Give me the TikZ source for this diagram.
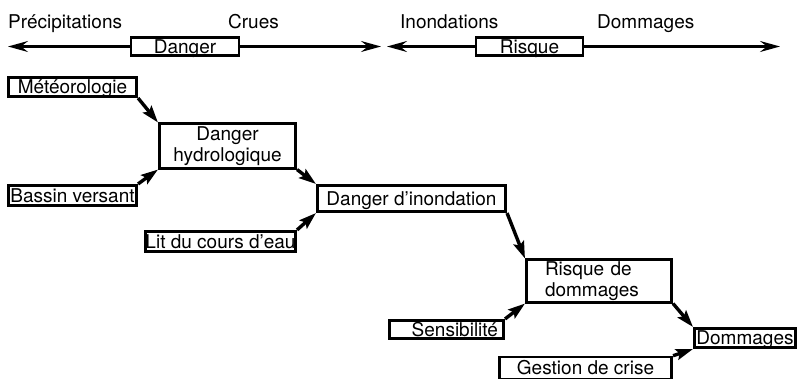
\documentclass[tikz,border=0pt]{standalone}
\usepackage{fontspec}
\setmainfont{TeX Gyre Heros}
\usetikzlibrary{arrows.meta}

\tikzset{
    box/.style={draw, line width=2.6pt, inner sep=0pt, align=center, font=\fontsize{19}{21}\selectfont},
    onebox/.style={box, text height=13.7pt, text depth=0.5pt},
    toplabel/.style={anchor=base west, inner sep=0pt, font=\fontsize{19}{21}\selectfont},
    axis/.style={line width=2.2pt, -{Stealth[length=20pt, width=11pt, inset=7pt]}},
    flow/.style={line width=3.4pt, -{Stealth[length=17pt, width=11pt, inset=3pt]}}
}

\begin{document}
\begin{tikzpicture}[x=1pt, y=-1pt]

    \useasboundingbox (0,0) rectangle (800,378);

    % draw the scale on top
    \node[onebox, minimum width=108pt, minimum height=18.5pt] (danger) at (185,46.5) {Danger};
    \node[onebox, minimum width=107pt, minimum height=18.5pt] (risque) at (529.5,46.5) {Risque};

    \coordinate (precip tip) at (8,46.5);
    \coordinate (crues tip) at (381,46.5);
    \coordinate (inond tip) at (387,46.5);
    \coordinate (domm tip) at (780,46.5);

    \node[toplabel] (precip) at (8,28) {Précipitations};
    \node[toplabel] (crues) at (228,28) {Crues};
    \node[toplabel] (inond) at (400,28) {Inondations};
    \node[toplabel] (domm) at (597,28) {Dommages};

    \path[draw, axis] (danger.west) -- (precip tip);
    \path[draw, axis] (danger.east) -- (crues tip);
    \path[draw, axis] (risque.west) -- (inond tip);
    \path[draw, axis] (risque.east) -- (domm tip);

    % draw the chain of boxes
    \node[onebox, minimum width=128.5pt, minimum height=19.5pt] (meteo) at (72.5,87) {Météorologie};
    \node[box, minimum width=136.5pt, minimum height=44.5pt] (hydro) at (227.5,146) {Danger\\hydrologique};
    \node[onebox, minimum width=128.5pt, minimum height=20.5pt] (bassin) at (72.5,195.5) {Bassin versant};
    \node[onebox, minimum width=188.5pt, minimum height=26.5pt] (inondation) at (411.5,198.5) {Danger d’inondation};
    \node[onebox, minimum width=150.5pt, minimum height=20.5pt] (lit) at (220.5,241.5) {Lit du cours d’eau};
    \node[box, minimum width=145.5pt, minimum height=42.5pt, text width=108pt, align=left] (risquedom) at (599,281) {Risque de\\dommages};
    \node[onebox, minimum width=114.5pt, minimum height=18.5pt, text width=103pt, align=right] (sensib) at (446.5,329.5) {Sensibilité};
    \node[onebox, minimum width=101.5pt, minimum height=19.5pt] (dommages) at (745,338) {Dommages};
    \node[onebox, minimum width=172.5pt, minimum height=22pt] (gestion) at (585.5,368) {Gestion de crise};

    % draw the connections
    \path[draw, flow] (meteo.south east) -- (hydro.north west);
    \path[draw, flow] (bassin.north east) -- (hydro.south west);
    \path[draw, flow] (hydro.south east) -- (inondation.north west);
    \path[draw, flow] (lit.north east) -- (inondation.south west);
    \path[draw, flow] (inondation.south east) -- (risquedom.north west);
    \path[draw, flow] (sensib.north east) -- (risquedom.south west);
    \path[draw, flow] (risquedom.south east) -- (dommages.north west);
    \path[draw, flow] (gestion.north east) -- (dommages.south west);

\end{tikzpicture}
\end{document}
